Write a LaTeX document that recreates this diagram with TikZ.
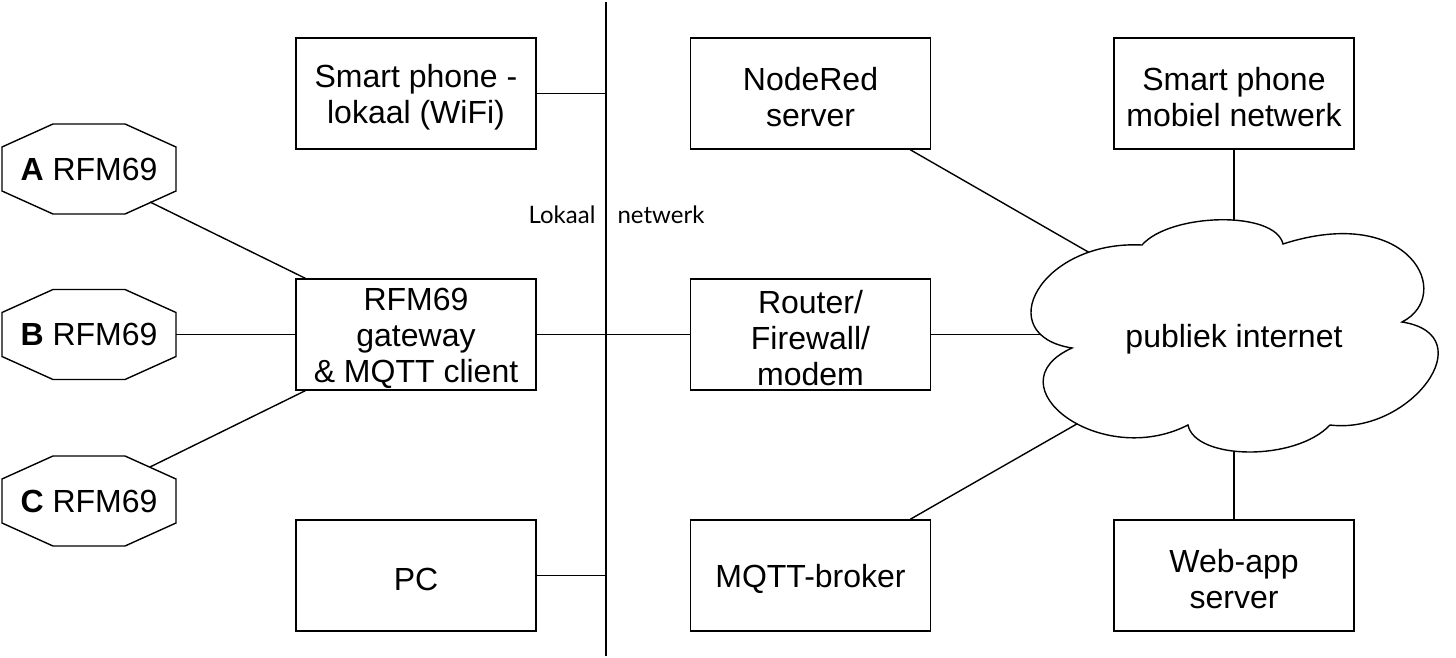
\documentclass[tikz,border=0pt]{standalone}
\usepackage{fontspec}
\setmainfont{Liberation Sans}
\newfontfamily\labfont{Lato}
\newcommand\hstr{\rule{0pt}{15.5pt}}
\begin{document}
\begin{tikzpicture}[x=0.5pt,y=-0.5pt, line width=0.7pt,
  box/.style={draw, minimum width=120pt, minimum height=55.5pt, align=center, inner sep=0pt,
    font=\fontsize{16}{18}\selectfont},
  lbl/.style={font=\fontsize{16}{18}\selectfont, inner sep=0pt},
  small/.style={font=\labfont\fontsize{12}{14}\selectfont, inner sep=0pt},
  cloudshape/.style={draw, fill=white}]
\useasboundingbox (0,0) rectangle (1456,658);

% local network line
\coordinate (vtop) at (606,2);
\coordinate (vbot) at (606,656);
\draw (vtop) -- (vbot);
\node[small] (lok) at (562,215) {Lokaal};
\node[small] (net) at (661,215) {netwerk};

% boxes
\node[box] (splok) at (416,93.5) {\hstr Smart phone -\\lokaal (WiFi)};
\node[box] (gw) at (416,334.5) {\hstr RFM69\\gateway\\\& MQTT client};
\node[box] (pc) at (416,575.5) {\hstr PC};
\node[box] (nr) at (810.5,93.5) {\hstr NodeRed\\server};
\node[box] (rt) at (810.5,334.5) {\hstr Router/\\Firewall/\\modem};
\node[box] (mq) at (810.5,575.5) {\hstr MQTT-broker};
\node[box] (spm) at (1234,93.5) {\hstr Smart phone\\mobiel netwerk};
\node[box] (web) at (1234,575.5) {\hstr Web-app\\server};

% octagons
\foreach \c/\n/\y in {A/A/169, B/B/334.5, C/C/501}{
  \draw (89,\y) ++(-36,-45) -- ++(72,0) -- ++(51,23) -- ++(0,44) -- ++(-51,23) -- ++(-72,0) -- ++(-51,-23) -- ++(0,-44) -- cycle;
  \node[lbl] (oct\c) at (89,\y) {\textbf{\n} RFM69};
}

% connectors on the left
\coordinate (Ap) at (150,202);
\coordinate (Bp) at (176,334.5);
\coordinate (Cp) at (150,467);
\draw (Ap) -- ([xshift=5pt]gw.north west);
\draw (Bp) -- (gw.west);
\draw (Cp) -- ([xshift=5pt]gw.south west);

% connectors to the local network
\draw (splok.east) -- (splok.east -| vtop);
\draw (pc.east) -- (pc.east -| vtop);
\draw (gw) -- (rt);

% connectors to the cloud
\coordinate (cNR) at (1090,253);
\coordinate (cRT) at (1060,334.5);
\coordinate (cMQ) at (1082,421);
\coordinate (cSP) at (1234,232);
\coordinate (cWB) at (1234,440);
\draw ([xshift=-10.5pt]nr.south east) -- (cNR);
\draw (rt.east) -- (cRT);
\draw ([xshift=-10.5pt]mq.north east) -- (cMQ);
\draw (spm.south) -- (cSP);
\draw (web.north) -- (cWB);

% cloud
\draw[cloudshape] (1142,245) .. controls (1040,240) and (990,335) .. (1072,348)
  .. controls (990,385) and (1100,470) .. (1188,425)
  .. controls (1195,460) and (1295,462) .. (1330,425)
  .. controls (1410,435) and (1485,335) .. (1402,322)
  .. controls (1455,295) and (1410,203) .. (1283,244)
  .. controls (1275,210) and (1170,213) .. (1142,245) -- cycle;
\node[lbl, yshift=-2pt] (cloud) at (1234,335) {publiek internet};
\end{tikzpicture}
\end{document}
